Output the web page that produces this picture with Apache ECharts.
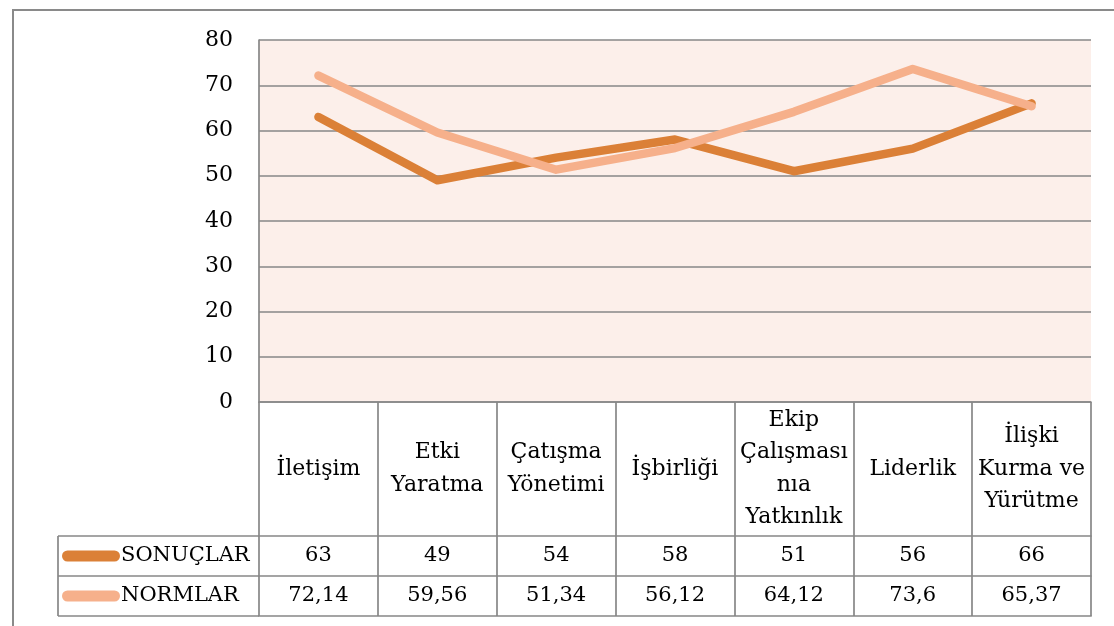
<!DOCTYPE html>
<html>
<head>
<meta charset="utf-8">
<style>
  html, body { margin: 0; padding: 0; background: #ffffff; }
  #chart { width: 1114px; height: 626px; }
</style>
<script src="https://cdn.jsdelivr.net/npm/echarts@6/dist/echarts.min.js"></script>
</head>
<body>
<div id="chart"></div>
<script>
// Competency categories (line breaks as shown in the table header)
const categories = [
  'İletişim',
  'Etki\nYaratma',
  'Çatışma\nYönetimi',
  'İşbirliği',
  'Ekip\nÇalışması\nnıa\nYatkınlık',
  'Liderlik',
  'İlişki\nKurma ve\nYürütme'
];
const seriesNames = ['SONUÇLAR', 'NORMLAR'];
const sonuclar = [63, 49, 54, 58, 51, 56, 66];
const normlar = [72.14, 59.56, 51.34, 56.12, 64.12, 73.6, 65.37];
const yTicks = { min: 0, max: 80, step: 10 };

const FONT = 'DejaVu Serif';
const GRID_COLOR = '#878787';
const COLORS = ['#db8037', '#f6b08b'];

// layout
const W = 1114, H = 626;
const gridLeft = 259, gridRight = 1091, gridTop = 40, gridBottom = 402;
const headerRowH = 134, dataRowH = 40;
const tableLeft = 58;

const fmt = v => String(v).replace('.', ',');

const chart = echarts.init(document.getElementById('chart'), null, { renderer: 'canvas' });

const row1 = gridBottom + headerRowH;
const row2 = row1 + dataRowH;
const row3 = row2 + dataRowH;

const cellText = { fontFamily: FONT, fontSize: 21, color: '#000' };
const lineW = 1.7;

const option = {
  animation: false,
  backgroundColor: '#ffffff',
  grid: {
    left: gridLeft, top: gridTop, right: W - gridRight, bottom: H - gridBottom,
    show: true, backgroundColor: '#fcefea', borderWidth: 0,
    outerBoundsMode: 'none', containLabel: false
  },
  legend: [0, 1].map(i => ({
    data: [seriesNames[i]],
    left: tableLeft + 4,
    top: row1 + i * dataRowH + 9,
    padding: 0,
    itemWidth: 58, itemHeight: 11,
    icon: 'path://M5.5,0 H52.5 A5.5,5.5 0 0 1 52.5,11 H5.5 A5.5,5.5 0 0 1 5.5,0 Z',
    textStyle: { fontFamily: FONT, fontSize: 21, color: '#000', lineHeight: 22, padding: [0, 0, 0, -4] },
    selectedMode: false
  })),
  xAxis: [
    {
      type: 'category', data: categories, boundaryGap: true, position: 'bottom',
      axisLine: { show: true, lineStyle: { color: GRID_COLOR, width: lineW } },
      axisTick: { show: true, interval: 0, length: headerRowH, lineStyle: { color: GRID_COLOR, width: lineW } },
      axisLabel: { interval: 0, margin: headerRowH / 2, verticalAlign: 'middle', align: 'center',
        lineHeight: 32.5, fontFamily: FONT, fontSize: 22, color: '#000' }
    },
    {
      type: 'category', data: categories, boundaryGap: true, position: 'bottom', offset: headerRowH,
      axisLine: { show: true, lineStyle: { color: GRID_COLOR, width: lineW } },
      axisTick: { show: true, interval: 0, length: dataRowH, lineStyle: { color: GRID_COLOR, width: lineW } },
      axisLabel: Object.assign({ interval: 0, margin: dataRowH / 2, verticalAlign: 'middle',
        formatter: (v, i) => fmt(sonuclar[i]) }, cellText)
    },
    {
      type: 'category', data: categories, boundaryGap: true, position: 'bottom', offset: headerRowH + dataRowH,
      axisLine: { show: true, lineStyle: { color: GRID_COLOR, width: lineW } },
      axisTick: { show: true, interval: 0, length: dataRowH, lineStyle: { color: GRID_COLOR, width: lineW } },
      axisLabel: Object.assign({ interval: 0, margin: dataRowH / 2, verticalAlign: 'middle',
        formatter: (v, i) => fmt(normlar[i]) }, cellText)
    },
    {
      type: 'category', data: categories, boundaryGap: true, position: 'bottom', offset: headerRowH + 2 * dataRowH,
      axisLine: { show: true, lineStyle: { color: GRID_COLOR, width: lineW } },
      axisTick: { show: false }, axisLabel: { show: false }
    }
  ],
  yAxis: {
    type: 'value', min: yTicks.min, max: yTicks.max, interval: yTicks.step,
    axisLine: { show: true, lineStyle: { color: GRID_COLOR, width: lineW } },
    axisTick: { show: false },
    splitLine: { show: true, lineStyle: { color: GRID_COLOR, width: lineW } },
    axisLabel: { margin: 26, fontFamily: FONT, fontSize: 22, color: '#000' }
  },
  series: [sonuclar, normlar].map((d, i) => ({
    name: seriesNames[i], type: 'line', data: d, xAxisIndex: 0,
    symbol: 'none', silent: true,
    color: COLORS[i],
    lineStyle: { width: 8.5, color: COLORS[i], cap: 'round', join: 'round' },
    z: 3 + i
  })),
  graphic: [
    // outer frame
    { type: 'rect', shape: { x: 13, y: 10, width: 1200, height: 800 },
      style: { fill: 'none', stroke: '#8a8a8a', lineWidth: 2 }, silent: true },
    // legend column of the data table
    { type: 'line', shape: { x1: tableLeft, y1: row1, x2: gridLeft, y2: row1 }, style: { stroke: GRID_COLOR, lineWidth: lineW } },
    { type: 'line', shape: { x1: tableLeft, y1: row2, x2: gridLeft, y2: row2 }, style: { stroke: GRID_COLOR, lineWidth: lineW } },
    { type: 'line', shape: { x1: tableLeft, y1: row3, x2: gridLeft, y2: row3 }, style: { stroke: GRID_COLOR, lineWidth: lineW } },
    { type: 'line', shape: { x1: tableLeft, y1: row1, x2: tableLeft, y2: row3 }, style: { stroke: GRID_COLOR, lineWidth: lineW } }
  ]
};

chart.setOption(option);
</script>
</body>
</html>
